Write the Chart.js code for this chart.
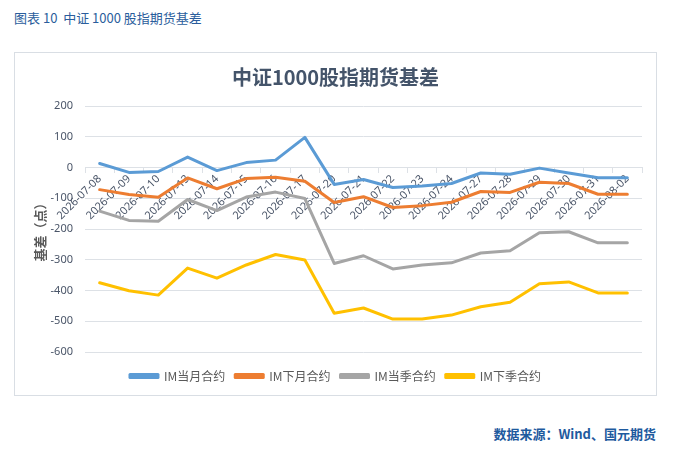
<!DOCTYPE html>
<html>
<head>
<meta charset="utf-8">
<script src="https://cdn.jsdelivr.net/npm/chart.js@4"></script>
<style>
  body { margin: 0; width: 696px; height: 458px; background: #fff; position: relative; font-family: "Noto Sans CJK SC", "Noto Sans", sans-serif; }
  #head { position: absolute; left: 14px; top: 8px; font-size: 13px; color: #2A5D9C; }
  #box { position: absolute; left: 14px; top: 52px; width: 643px; height: 344px; box-sizing: border-box; border: 1px solid #D9DEE4; }
  #foot { position: absolute; right: 40px; top: 424px; font-size: 13px; color: #1E5A9E; font-weight: bold; }
</style>
</head>
<body>
<div id="head">图表 10&nbsp;&nbsp;中证 1000 股指期货基差</div>
<div id="box"><canvas id="basis" width="641" height="342"></canvas></div>
<div id="foot">数据来源：Wind、国元期货</div>
<script>
// trading days
const dates = ['2026-07-08', '2026-07-09', '2026-07-10', '2026-07-13', '2026-07-14', '2026-07-15', '2026-07-16',
  '2026-07-17', '2026-07-20', '2026-07-21', '2026-07-22', '2026-07-23', '2026-07-24', '2026-07-27',
  '2026-07-28', '2026-07-29', '2026-07-30', '2026-07-31', '2026-08-02'];

// basis, points
const imCurrentMonth = [13, -16, -13, 34, -10, 16, 24, 98, -55, -39, -65, -60, -52, -18, -22, -2, -18, -33, -33];
const imNextMonth = [-72, -88, -97, -34, -69, -36, -32, -45, -114, -95, -130, -124, -113, -78, -81, -48, -52, -87, -87];
const imCurrentQuarter = [-142, -172, -175, -104, -140, -96, -80, -101, -312, -287, -330, -317, -310, -278, -271, -212, -209, -245, -245];
const imNextQuarter = [-375, -401, -415, -327, -360, -317, -283, -301, -474, -457, -493, -493, -480, -453, -438, -378, -372, -408, -408];

const seriesNames = ['IM当月合约', 'IM下月合约', 'IM当季合约', 'IM下季合约'];
const seriesColors = ['#5B9BD5', '#ED7D31', '#A5A5A5', '#FFC000'];

const yTicks = { min: -600, max: 200, step: 100 };

const textColor = '#4A5568';
const gridColor = '#DDE1E6';

const allSeries = [imCurrentMonth, imNextMonth, imCurrentQuarter, imNextQuarter];

const ctx = document.getElementById('basis').getContext('2d');
new Chart(ctx, {
  type: 'line',
  data: {
    labels: dates,
    datasets: allSeries.map((vals, i) => ({
      label: seriesNames[i],
      data: vals,
      borderColor: seriesColors[i],
      backgroundColor: seriesColors[i],
      borderWidth: 3,
      pointRadius: 0,
      tension: 0,
      fill: false,
      borderJoinStyle: 'round',
      borderCapStyle: 'round',
    })),
  },
  options: {
    responsive: false,
    animation: false,
    layout: { padding: { left: 0, right: 0, top: 0, bottom: 3 } },
    plugins: {
      tooltip: { enabled: false },
      title: {
        display: true,
        text: '中证1000股指期货基差',
        color: '#44546A',
        font: { family: '"Noto Sans CJK SC", sans-serif', size: 20, weight: 'bold' },
        padding: { top: 12, bottom: 17 },
      },
      legend: {
        position: 'bottom',
        labels: {
          boxWidth: 28,
          boxHeight: 3,
          padding: 10,
          color: '#595959',
          font: { family: '"Noto Sans CJK SC", sans-serif', size: 12 },
        },
      },
    },
    scales: {
      x: {
        position: { y: 0 },
        offset: true,
        grid: { display: true, drawOnChartArea: false, offset: true, tickLength: 5, color: gridColor },
        border: { display: true, color: gridColor },
        ticks: {
          autoSkip: false,
          minRotation: 45,
          maxRotation: 45,
          padding: 0,
          color: textColor,
          font: { family: '"Noto Sans", sans-serif', size: 11 },
        },
      },
      y: {
        min: yTicks.min,
        max: yTicks.max,
        ticks: {
          stepSize: yTicks.step,
          padding: 12,
          color: textColor,
          font: { family: '"Noto Sans", sans-serif', size: 11 },
        },
        grid: { color: gridColor, drawTicks: false },
        border: { display: false },
        title: {
          display: true,
          text: '基差（点）',
          color: '#595959',
          font: { family: '"Noto Sans CJK SC", sans-serif', size: 13, weight: 'bold' },
          padding: { top: 17, bottom: 0 },
        },
        afterFit: (axis) => { axis.width = 70; },
      },
      // empty spacers so the plot area sits where the reference has it
      spacerRight: {
        type: 'linear',
        position: 'right',
        ticks: { display: false },
        grid: { display: false },
        border: { display: false },
        afterFit: (axis) => { axis.width = 14; },
      },
      spacerBottom: {
        type: 'linear',
        axis: 'x',
        position: 'bottom',
        ticks: { display: false },
        grid: { display: false },
        border: { display: false },
        afterFit: (axis) => { axis.height = 8; },
      },
    },
  },
});
</script>
</body>
</html>
